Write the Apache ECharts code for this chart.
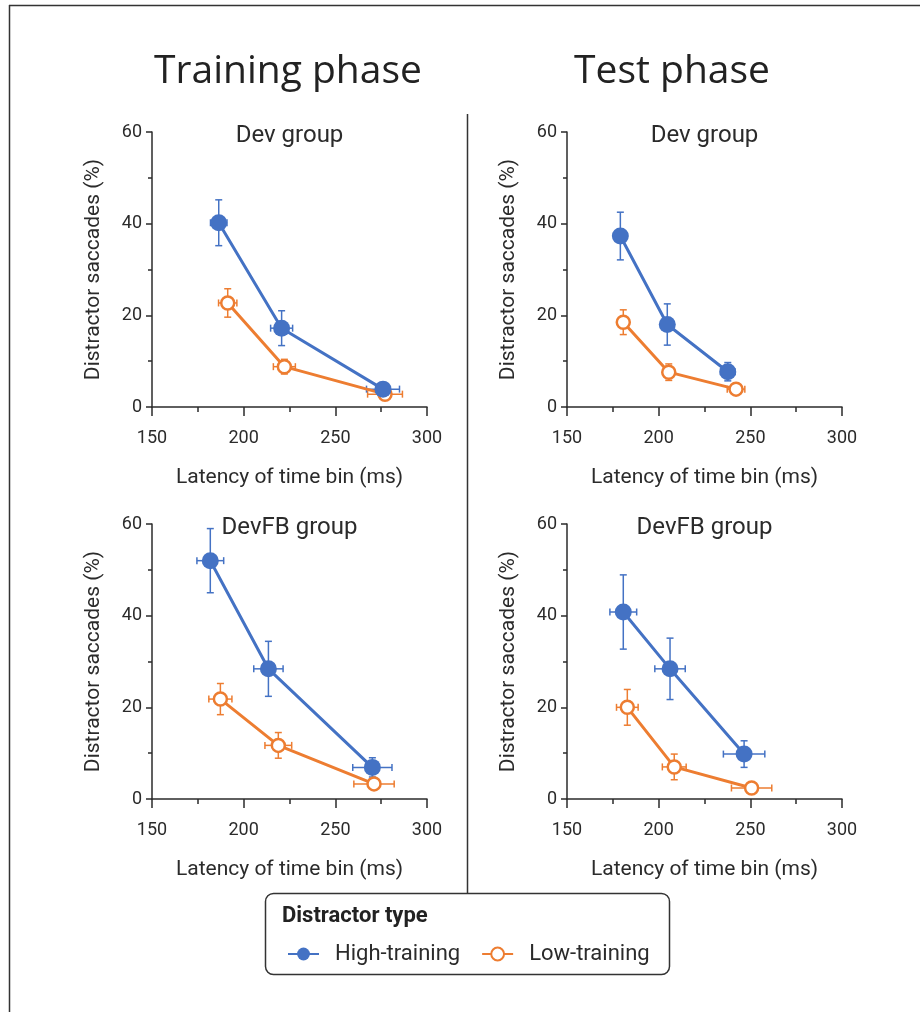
<!DOCTYPE html>
<html>
<head>
<meta charset="utf-8">
<script src="https://cdn.jsdelivr.net/npm/echarts@6/dist/echarts.min.js"></script>
<style>
  html, body { margin: 0; padding: 0; background: #fff; }
  #chart { width: 920px; height: 1012px; }
</style>
</head>
<body>
<div id="chart"></div>
<script>
// each point: [latency (ms), distractor saccades (%), latency error, saccade error]
const devTrainHigh = [[186.4, 40.2, 4.5, 5.0], [220.7, 17.2, 6.0, 3.8], [276.0, 3.9, 9.0, 1.0]]
const devTrainLow = [[191.3, 22.7, 5.0, 3.1], [222.2, 8.8, 6.0, 1.6], [277.1, 2.8, 9.5, 0.8]]
const devTestHigh = [[179.1, 37.3, 2.0, 5.2], [204.7, 18.0, 2.0, 4.5], [237.7, 7.7, 4.0, 2.0]]
const devTestLow = [[180.7, 18.5, 2.5, 2.7], [205.5, 7.6, 2.0, 1.8], [242.2, 3.9, 4.8, 0.8]]
const fbTrainHigh = [[181.8, 52.0, 7.3, 7.0], [213.5, 28.4, 8.0, 6.0], [270.2, 6.9, 10.7, 2.1]]
const fbTrainLow = [[187.3, 21.8, 6.3, 3.4], [218.9, 11.7, 7.3, 2.8], [271.1, 3.3, 11.0, 1.0]]
const fbTestHigh = [[180.7, 40.8, 7.3, 8.1], [206.2, 28.4, 8.3, 6.7], [246.6, 9.8, 11.3, 2.9]]
const fbTestLow = [[182.9, 20.0, 5.9, 3.9], [208.5, 7.0, 6.5, 2.8], [250.7, 2.4, 11.0, 0.7]]

const xRange = [150, 300]
const yRange = [0, 60]

const BLUE = '#4472c4'
const ORANGE = '#ed7d31'
const INK = '#2b2b2b'
const FONT = 'Roboto'

const panels = [
  { left: 152, top: 132, title: 'Dev group', high: devTrainHigh, low: devTrainLow },
  { left: 567, top: 132, title: 'Dev group', high: devTestHigh, low: devTestLow },
  { left: 152, top: 524, title: 'DevFB group', high: fbTrainHigh, low: fbTrainLow },
  { left: 567, top: 524, title: 'DevFB group', high: fbTestHigh, low: fbTestLow }
]
const SIZE = 275

function errorBars(params, api) {
  const x = api.value(0), y = api.value(1), ex = api.value(2), ey = api.value(3)
  const c = api.coord([x, y])
  const l = api.coord([x - ex, y])
  const r = api.coord([x + ex, y])
  const t = api.coord([x, y + ey])
  const b = api.coord([x, y - ey])
  const cap = 3.5
  const style = { stroke: api.visual('color'), lineWidth: 1.5 }
  const seg = (x1, y1, x2, y2) => ({ type: 'line', shape: { x1, y1, x2, y2 }, style })
  return {
    type: 'group',
    children: [
      seg(l[0], c[1], r[0], c[1]),
      seg(l[0], c[1] - cap, l[0], c[1] + cap),
      seg(r[0], c[1] - cap, r[0], c[1] + cap),
      seg(c[0], t[1], c[0], b[1]),
      seg(c[0] - cap, t[1], c[0] + cap, t[1]),
      seg(c[0] - cap, b[1], c[0] + cap, b[1])
    ]
  }
}

const grid = [], xAxis = [], yAxis = [], series = [], graphic = []

panels.forEach((p, i) => {
  grid.push({ left: p.left, top: p.top, width: SIZE, height: SIZE })
  xAxis.push({
    type: 'value', gridIndex: i, min: xRange[0], max: xRange[1], interval: 50,
    name: 'Latency of time bin (ms)', nameLocation: 'middle', nameGap: 60,
    nameTextStyle: { fontFamily: FONT, fontSize: 21, color: INK },
    axisLine: { show: true, lineStyle: { color: INK, width: 1.5 } },
    axisTick: { show: true, length: 9, lineStyle: { color: INK, width: 1.5 } },
    minorTick: { show: true, splitNumber: 2, length: 5, lineStyle: { color: INK, width: 1.5 } },
    axisLabel: { fontFamily: FONT, fontSize: 18, color: INK, margin: 22 },
    splitLine: { show: false }
  })
  yAxis.push({
    type: 'value', gridIndex: i, min: yRange[0], max: yRange[1], interval: 20,
    name: 'Distractor saccades (%)', nameLocation: 'middle', nameGap: 48,
    nameTextStyle: { fontFamily: FONT, fontSize: 21, color: INK },
    axisLine: { show: true, lineStyle: { color: INK, width: 1.5 } },
    axisTick: { show: true, length: 6, lineStyle: { color: INK, width: 1.5 } },
    minorTick: { show: true, splitNumber: 2, length: 4, lineStyle: { color: INK, width: 1.5 } },
    axisLabel: { fontFamily: FONT, fontSize: 18, color: INK, margin: 10 },
    splitLine: { show: false }
  })

  series.push(
    { type: 'custom', name: 'lowErr', xAxisIndex: i, yAxisIndex: i, renderItem: errorBars,
      itemStyle: { color: ORANGE }, data: p.low, encode: { x: 0, y: 1 }, z: 1 },
    { type: 'custom', name: 'highErr', xAxisIndex: i, yAxisIndex: i, renderItem: errorBars,
      itemStyle: { color: BLUE }, data: p.high, encode: { x: 0, y: 1 }, z: 1 },
    { type: 'line', name: 'Low-training', xAxisIndex: i, yAxisIndex: i, z: 2,
      data: p.low.map(d => [d[0], d[1]]),
      symbol: 'circle', symbolSize: 13,
      lineStyle: { color: ORANGE, width: 3 },
      itemStyle: { color: '#fff', borderColor: ORANGE, borderWidth: 2.5 } },
    { type: 'line', name: 'High-training', xAxisIndex: i, yAxisIndex: i, z: 2,
      data: p.high.map(d => [d[0], d[1]]),
      symbol: 'circle', symbolSize: 17,
      lineStyle: { color: BLUE, width: 3 },
      itemStyle: { color: BLUE } }
  )

  graphic.push({
    type: 'text', x: p.left + SIZE / 2, y: p.top + 4,
    style: { text: p.title, fontFamily: FONT, fontSize: 24, fill: INK,
      textAlign: 'center', textVerticalAlign: 'middle' }
  })
})

// phase headings, frame lines and the legend box
graphic.push(
  { type: 'text', x: 288, y: 72,
    style: { text: 'Training phase', fontFamily: 'Open Sans', fontSize: 39, fill: '#222',
      textAlign: 'center', textVerticalAlign: 'middle' } },
  { type: 'text', x: 672, y: 72,
    style: { text: 'Test phase', fontFamily: 'Open Sans', fontSize: 39, fill: '#222',
      textAlign: 'center', textVerticalAlign: 'middle' } },
  { type: 'line', shape: { x1: 9, y1: 5.5, x2: 920, y2: 5.5 }, style: { stroke: '#333', lineWidth: 1.5 } },
  { type: 'line', shape: { x1: 9.5, y1: 5, x2: 9.5, y2: 1012 }, style: { stroke: '#333', lineWidth: 1.5 } },
  { type: 'line', shape: { x1: 467.5, y1: 114, x2: 467.5, y2: 893 }, style: { stroke: '#333', lineWidth: 1.5 } },
  { type: 'rect', shape: { x: 265.5, y: 893.5, width: 404, height: 81, r: 8 },
    style: { fill: '#fff', stroke: '#333', lineWidth: 1.5 } },
  { type: 'text', x: 282, y: 916,
    style: { text: 'Distractor type', fontFamily: FONT, fontWeight: 'bold', fontSize: 22, fill: '#222',
      textAlign: 'left', textVerticalAlign: 'middle' } }
)

const chart = echarts.init(document.getElementById('chart'))
chart.setOption({
  animation: false,
  grid, xAxis, yAxis, series, graphic,
  legend: {
    data: ['High-training', 'Low-training'],
    left: 287, top: 943, padding: 0,
    itemWidth: 31, itemHeight: 16, itemGap: 21,
    textStyle: { fontFamily: FONT, fontSize: 22, color: INK, padding: [0, 0, 0, 11] }
  }
})
</script>
</body>
</html>
